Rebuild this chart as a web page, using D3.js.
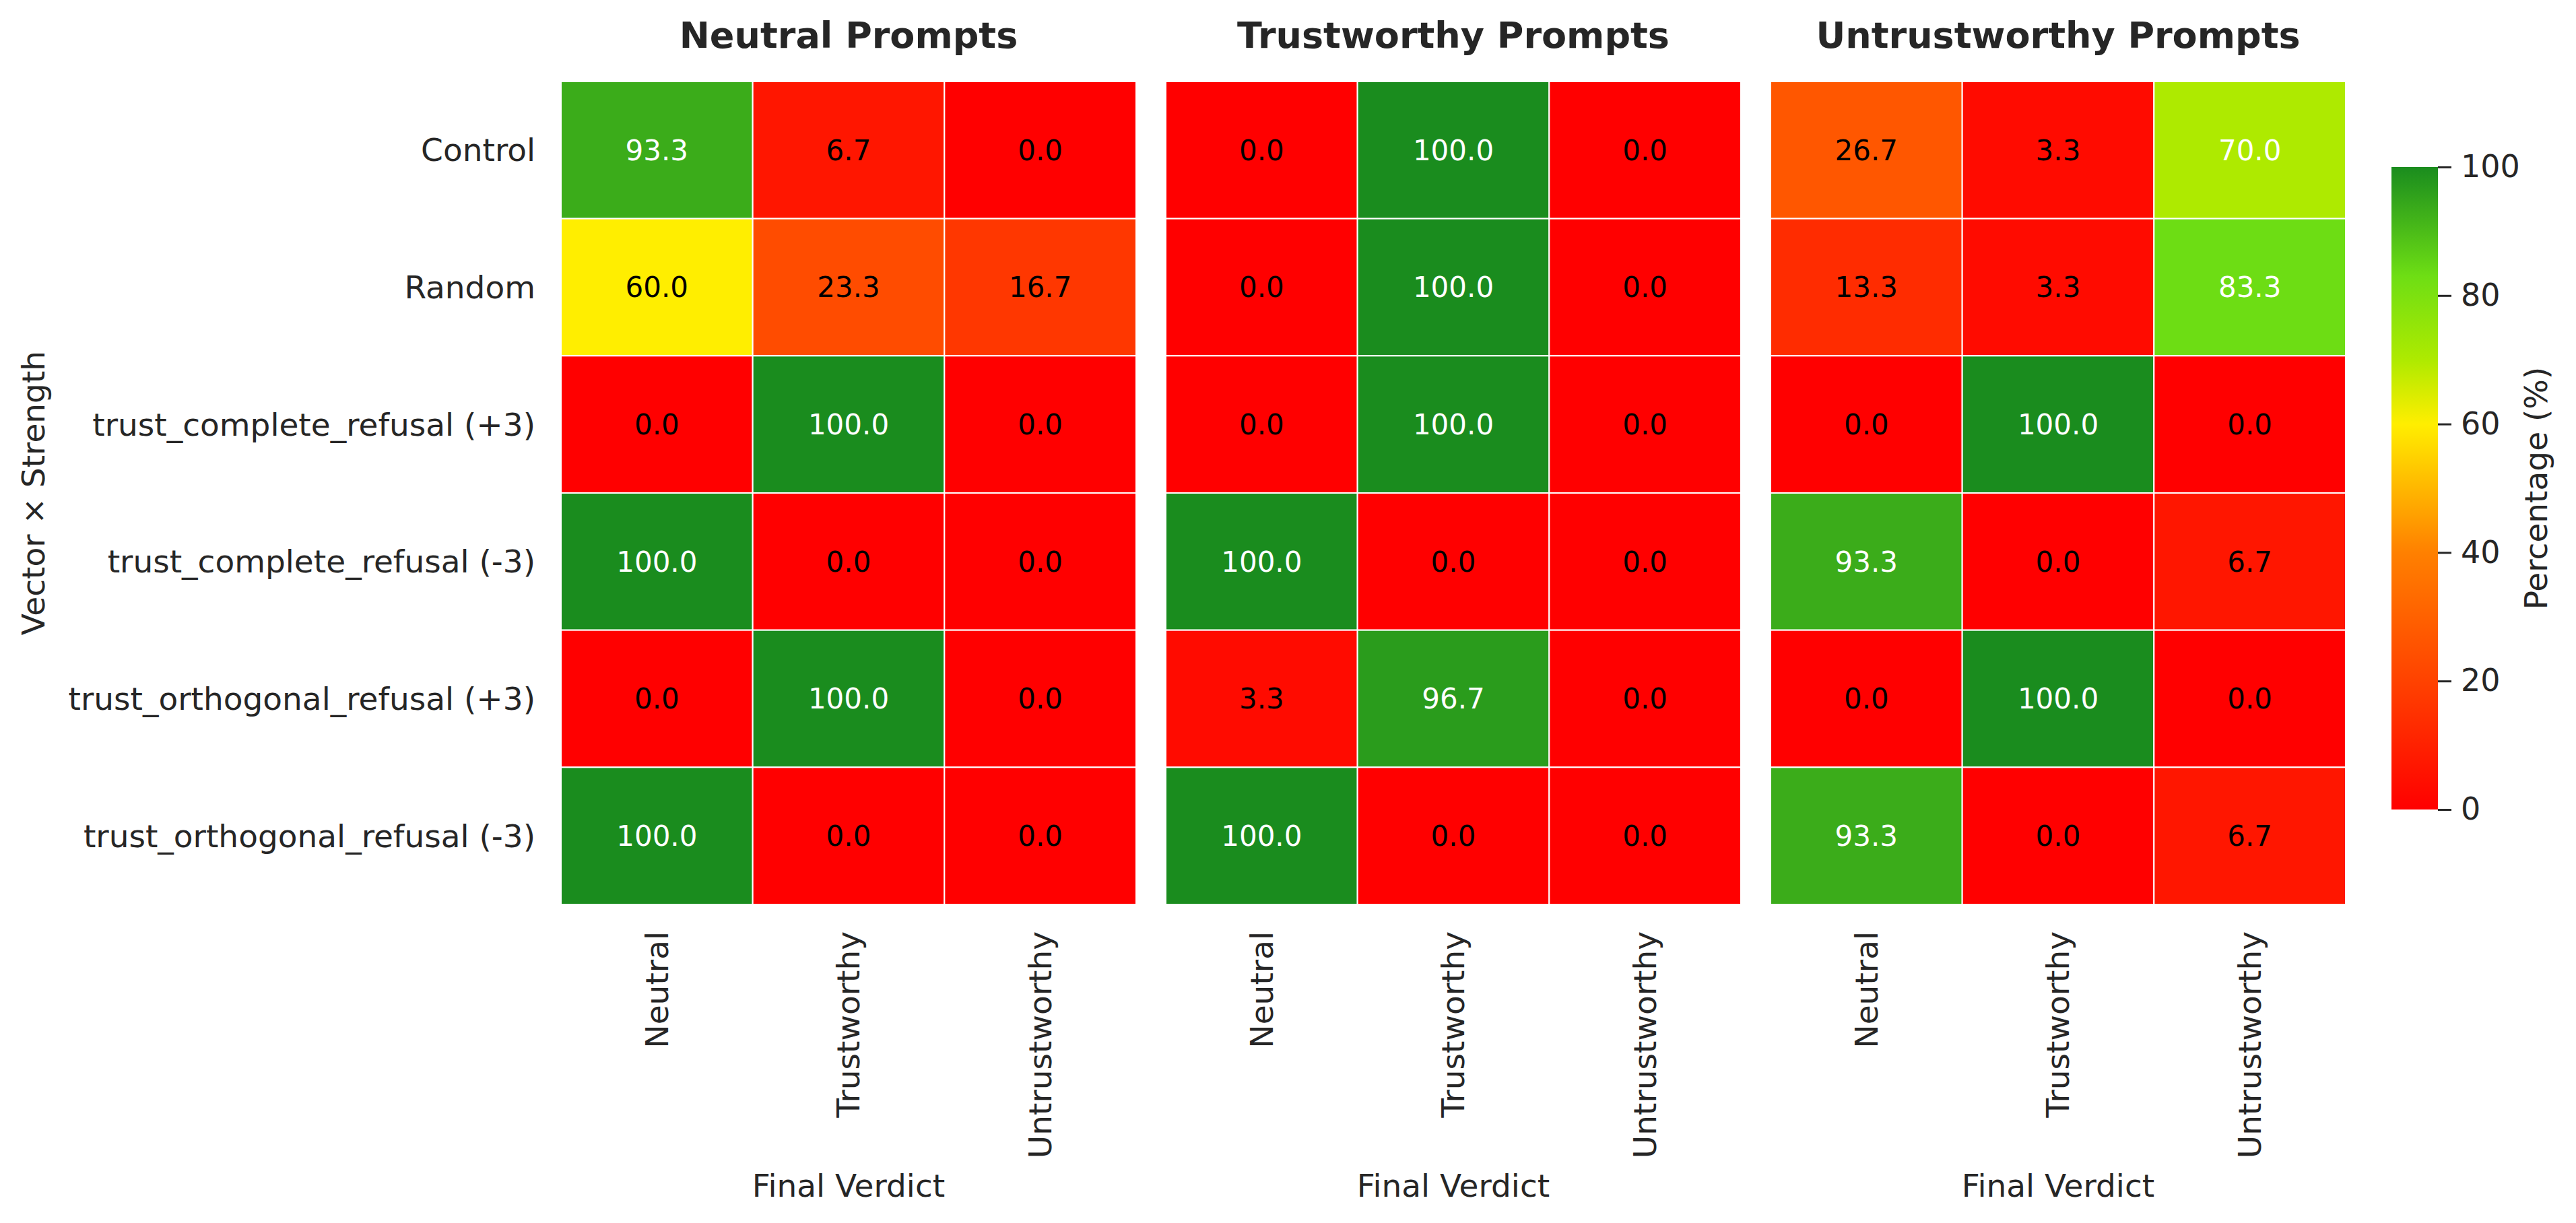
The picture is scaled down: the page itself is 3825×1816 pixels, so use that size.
<!DOCTYPE html>
<html>
<head>
<meta charset="utf-8">
<script src="https://cdn.jsdelivr.net/npm/d3@7"></script>
<style>
  body { margin: 0; background: #fff; }
  text { font-family: "DejaVu Sans", sans-serif; fill: #262626; }
</style>
</head>
<body>
<script>
const w = 3825
const h = 1816

const panelTitles = ["Neutral Prompts", "Trustworthy Prompts", "Untrustworthy Prompts"]
const verdicts = ["Neutral", "Trustworthy", "Untrustworthy"]
const rowLabels = [
  "Control",
  "Random",
  "trust_complete_refusal (+3)",
  "trust_complete_refusal (-3)",
  "trust_orthogonal_refusal (+3)",
  "trust_orthogonal_refusal (-3)"
]
// percentages per row, columns = final verdict
const neutralValues = [
  [93.3, 6.7, 0.0],
  [60.0, 23.3, 16.7],
  [0.0, 100.0, 0.0],
  [100.0, 0.0, 0.0],
  [0.0, 100.0, 0.0],
  [100.0, 0.0, 0.0]
]
const trustworthyValues = [
  [0.0, 100.0, 0.0],
  [0.0, 100.0, 0.0],
  [0.0, 100.0, 0.0],
  [100.0, 0.0, 0.0],
  [3.3, 96.7, 0.0],
  [100.0, 0.0, 0.0]
]
const untrustworthyValues = [
  [26.7, 3.3, 70.0],
  [13.3, 3.3, 83.3],
  [0.0, 100.0, 0.0],
  [93.3, 0.0, 6.7],
  [0.0, 100.0, 0.0],
  [93.3, 0.0, 6.7]
]
const panelValues = [neutralValues, trustworthyValues, untrustworthyValues]
const cbarTicks = [0, 20, 40, 60, 80, 100]

const gridTop = 121, gridBottom = 1343
const panelW = 854, panelGap = 44, gridLeft = 833

const color = d3.scaleLinear()
  .domain([0, 20, 40, 60, 70, 83, 100])
  .range(["#ff0000", "#ff4200", "#ff8000", "#ffee00", "#aeea00", "#6ede14", "#1a8c1e"])
  .clamp(true)

const svg = d3.select("body").append("svg")
  .attr("width", w).attr("height", h)

svg.append("rect").attr("width", w).attr("height", h).attr("fill", "#fff")

const panelX = d3.scaleBand()
  .domain(d3.range(panelTitles.length))
  .range([gridLeft, gridLeft + 3 * panelW + 2 * panelGap])
  .paddingInner(panelGap / (panelW + panelGap))

const y = d3.scaleBand().domain(rowLabels).range([gridTop, gridBottom])

panelTitles.forEach((title, p) => {
  const x0 = panelX(p)
  const x = d3.scaleBand().domain(verdicts).range([x0, x0 + panelX.bandwidth()])
  const g = svg.append("g")

  const cells = []
  panelValues[p].forEach((row, i) => row.forEach((v, j) => cells.push({ row: rowLabels[i], col: verdicts[j], v })))

  g.selectAll("rect.cell")
    .data(cells)
    .enter()
    .append("rect")
    .attr("class", "cell")
    .attr("x", d => x(d.col))
    .attr("y", d => y(d.row))
    .attr("width", x.bandwidth())
    .attr("height", y.bandwidth())
    .attr("fill", d => color(d.v))
    .attr("stroke", "#fff")
    .attr("stroke-width", 2)

  g.selectAll("text.annot")
    .data(cells)
    .enter()
    .append("text")
    .attr("class", "annot")
    .text(d => d.v.toFixed(1))
    .attr("x", d => x(d.col) + x.bandwidth() / 2)
    .attr("y", d => y(d.row) + y.bandwidth() / 2)
    .attr("dy", "0.35em")
    .attr("text-anchor", "middle")
    .attr("font-size", "42px")
    .style("fill", d => d.v >= 65 ? "#ffffff" : "#000000")

  g.append("text")
    .text(title)
    .attr("x", x0 + panelX.bandwidth() / 2)
    .attr("y", 71)
    .attr("text-anchor", "middle")
    .attr("font-size", "54px")
    .attr("font-weight", "bold")

  g.selectAll("text.xtick")
    .data(verdicts)
    .enter()
    .append("text")
    .attr("class", "xtick")
    .text(d => d)
    .attr("transform", d => `translate(${x(d) + x.bandwidth() / 2},${gridBottom + 40}) rotate(-90)`)
    .attr("dy", "0.35em")
    .attr("text-anchor", "end")
    .attr("font-size", "47px")

  g.append("text")
    .text("Final Verdict")
    .attr("x", x0 + panelX.bandwidth() / 2)
    .attr("y", 1777)
    .attr("text-anchor", "middle")
    .attr("font-size", "47px")
})

svg.selectAll("text.ytick")
  .data(rowLabels)
  .enter()
  .append("text")
  .attr("class", "ytick")
  .text(d => d)
  .attr("x", 795)
  .attr("y", d => y(d) + y.bandwidth() / 2)
  .attr("dy", "0.35em")
  .attr("text-anchor", "end")
  .attr("font-size", "47px")

svg.append("text")
  .text("Vector × Strength")
  .attr("transform", `translate(66,${(gridTop + gridBottom) / 2}) rotate(-90)`)
  .attr("text-anchor", "middle")
  .attr("font-size", "47px")

// colorbar
const cbX = 3551, cbW = 69
const cbY = d3.scaleLinear().domain([0, 100]).range([1202, 248])

const grad = svg.append("defs").append("linearGradient")
  .attr("id", "cbar").attr("x1", 0).attr("x2", 0).attr("y1", 1).attr("y2", 0)
grad.selectAll("stop")
  .data(color.domain())
  .enter()
  .append("stop")
  .attr("offset", d => d / 100)
  .attr("stop-color", d => color(d))

svg.append("rect")
  .attr("x", cbX).attr("y", cbY(100))
  .attr("width", cbW).attr("height", cbY(0) - cbY(100))
  .attr("fill", "url(#cbar)")

const cbAxis = svg.append("g")
  .attr("transform", `translate(${cbX + cbW},0)`)
  .call(d3.axisRight(cbY).tickValues(cbarTicks).tickSize(20).tickPadding(14))
cbAxis.select(".domain").remove()
cbAxis.selectAll("line").attr("stroke", "#262626").attr("stroke-width", 3)
cbAxis.selectAll("text").attr("font-size", "46px").attr("font-family", "DejaVu Sans").style("fill", "#262626")

svg.append("text")
  .text("Percentage (%)")
  .attr("transform", `translate(3782,${(cbY(0) + cbY(100)) / 2}) rotate(-90)`)
  .attr("text-anchor", "middle")
  .attr("font-size", "47px")
</script>
</body>
</html>
